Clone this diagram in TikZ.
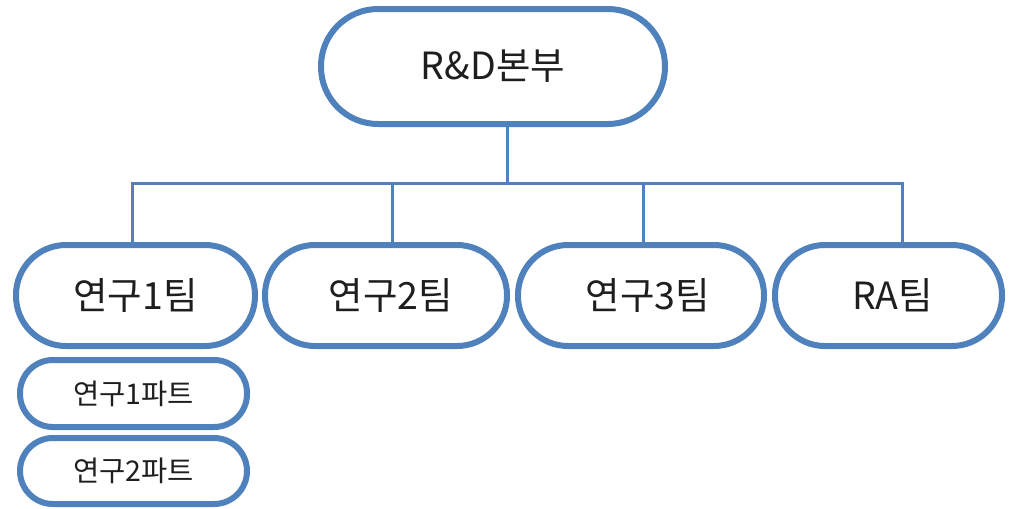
\documentclass[tikz,border=0pt]{standalone}
\usepackage{fontspec}
\setmainfont{Noto Sans CJK KR}
\definecolor{orgblue}{RGB}{79,129,189}
\definecolor{orgtext}{RGB}{30,30,30}
\tikzset{
  unit/.style={draw=orgblue, line width=6pt, fill=white, text=orgtext,
    rounded corners=#1, inner sep=0pt},
  link/.style={draw=orgblue, line width=3pt},
  big/.style={font=\fontsize{37.5}{42}\selectfont},
  small/.style={font=\fontsize{28.5}{32}\selectfont}
}

\begin{document}
\begin{tikzpicture}[x=1pt,y=-1pt]
    \useasboundingbox (0,0) rectangle (1010,509);
    % head
    \node[unit=57pt, big, minimum width=344pt, minimum height=115pt] (head) at (493,66.5) {R\&D본부};
    % teams
    \node[unit=50pt, big, minimum width=239pt, minimum height=101pt] (t1) at (135.5,295.5) {연구1팀};
    \node[unit=50pt, big, minimum width=242pt, minimum height=101pt] (t2) at (386,295.5) {\hspace*{10pt}연구2팀};
    \node[unit=50pt, big, minimum width=246pt, minimum height=101pt] (t3) at (641,295.5) {\hspace*{14pt}연구3팀};
    \node[unit=50pt, big, minimum width=227pt, minimum height=101pt] (ra) at (888.5,295.5) {\hspace*{8pt}RA팀};
    % parts
    \node[unit=33pt, small, minimum width=227pt, minimum height=67pt] (p1) at (133.5,393.5) {연구1파트};
    \node[unit=33pt, small, minimum width=227pt, minimum height=66pt] (p2) at (133.5,471) {연구2파트};
    % bus
    \coordinate (hub) at (507,183);
    \draw[link] (head.south -| hub) -- (hub);
    \draw[link] ([xshift=-3.5pt]t1.north) |- (hub);
    \draw[link] ([xshift=6pt]t2.north) |- (hub);
    \draw[link] ([xshift=2pt]t3.north) |- (hub);
    \draw[link] ([xshift=13.5pt]ra.north) |- (hub);
  \end{tikzpicture}
\end{document}
